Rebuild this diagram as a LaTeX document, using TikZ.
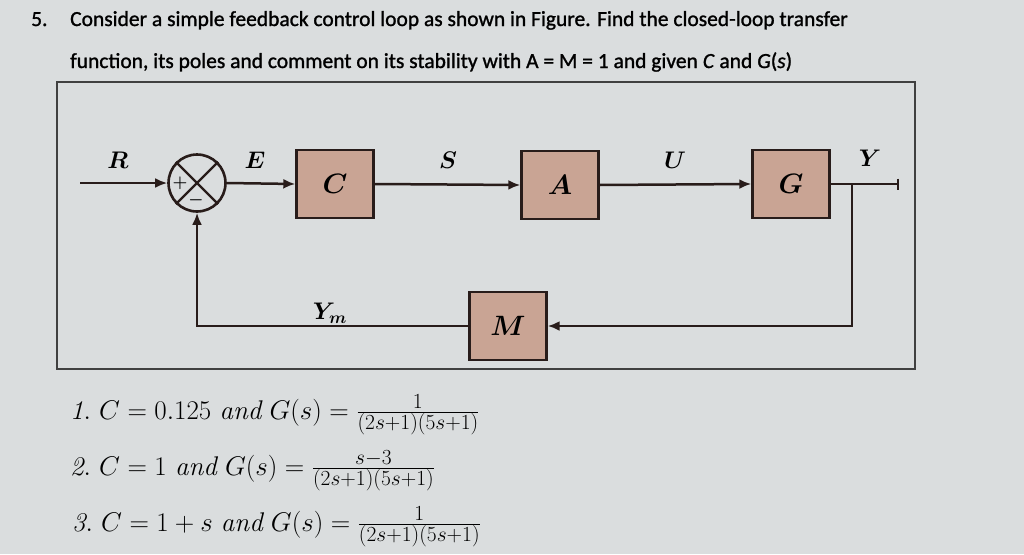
\RequirePackage{fix-cm}
\documentclass[tikz,border=0pt]{standalone}
\usepackage{amsmath}
\usepackage{fontspec}
\newfontfamily\headfont[FakeBold=1.2]{Carlito}
\usetikzlibrary{positioning,arrows.meta}
\DeclareMathSizes{27}{27}{21.5}{16}

\definecolor{bgcol}{RGB}{218,221,222}
\definecolor{boxfill}{RGB}{201,164,148}
\definecolor{linecol}{RGB}{40,28,26}

\tikzset{
	blockbox/.style={draw=linecol, line width=2.4pt, fill=boxfill, minimum width=77pt, minimum height=68pt, inner sep=0pt, font=\fontsize{28}{30}\selectfont},
	sigline/.style={draw=linecol, line width=2.5pt, -{Latex[length=12pt,width=10pt]}},
	siglabel/.style={font=\fontsize{24}{26}\selectfont},
	headtext/.style={anchor=base west, inner sep=0pt, font=\headfont\fontsize{21.5}{24}\selectfont},
	itemtext/.style={anchor=base west, inner sep=0pt, font=\fontsize{27}{30}\selectfont},
}

\begin{document}
\begin{tikzpicture}[x=1pt,y=-1pt]
			\fill[bgcol] (0,0) rectangle (1024,554);
			\useasboundingbox (0,0) rectangle (1024,554);

			% question
			\node[headtext] (num) at (31,26) {5.};
			\node[headtext] (line1) at (70,26) {Consider a simple feedback control loop as shown in Figure. Find the closed-loop transfer};
			\node[headtext] (line2) at (70,68) {function, its poles and comment on its stability with A = M = 1 and given \textit{C} and \textit{G}(\textit{s})};

			% frame
			\draw[draw=black!75, line width=1.3pt] (57,82) rectangle (915,369);

			% blocks
			\node[draw=linecol, line width=2.6pt, circle, minimum size=57pt, inner sep=0pt] (sum) at (197,183) {};
			\draw[linecol, line width=2.4pt] (sum.north west) -- (sum.south east);
			\draw[linecol, line width=2.4pt] (sum.north east) -- (sum.south west);
			\node[font=\fontsize{17}{19}\selectfont, inner sep=0pt] (plus) at (180,183) {$\boldsymbol{+}$};
			\node[font=\fontsize{17}{19}\selectfont, inner sep=0pt] (minus) at (196,200) {$\boldsymbol{-}$};

			\node[blockbox] (cbox) at (335,184) {$\boldsymbol{C}$};
			\node[blockbox] (abox) at (560,185) {$\boldsymbol{A}$};
			\node[blockbox] (gbox) at (791,184) {$\boldsymbol{G}$};
			\node[blockbox] (mbox) at (508,326) {$\boldsymbol{M}$};

			\coordinate (rin) at (80,183);
			\coordinate (yout) at (899,184);
			\coordinate (ybranch) at (852,184);

			% signals
			\draw[sigline] (rin) -- (sum.west);
			\draw[sigline] (sum.east) -- (cbox.west);
			\draw[sigline] (cbox.east) -- (abox.west);
			\draw[sigline] (abox.east) -- (gbox.west);
			\draw[draw=linecol, line width=2.5pt, -{Bar[width=11pt]}] (gbox.east) -- (yout);
			\draw[sigline] (ybranch) |- (mbox.east);
			\draw[sigline] (mbox.west) -| (sum.south);

			\node[siglabel] (rlab) at (118,160) {$\boldsymbol{R}$};
			\node[siglabel] (elab) at (255,160) {$\boldsymbol{E}$};
			\node[siglabel] (slab) at (448,160) {$\boldsymbol{S}$};
			\node[siglabel] (ulab) at (675,160) {$\boldsymbol{U}$};
			\node[siglabel] (ylab) at (870,158) {$\boldsymbol{Y}$};
			\node[siglabel] (ymlab) at (330,313) {$\boldsymbol{Y_m}$};

			% cases
			\node[itemtext] (case1) at (70,419) {$\mathit{1.}\ C = 0.125\ \mathit{and}\ G(s) = \frac{1}{(2s+1)(5s+1)}$};
			\node[itemtext] (case2) at (70,475) {$\mathit{2.}\ C = 1\ \mathit{and}\ G(s) = \frac{s-3}{(2s+1)(5s+1)}$};
			\node[itemtext] (case3) at (72,531) {$\mathit{3.}\ C = 1 + s\ \mathit{and}\ G(s) = \frac{1}{(2s+1)(5s+1)}$};
		\end{tikzpicture}
\end{document}
